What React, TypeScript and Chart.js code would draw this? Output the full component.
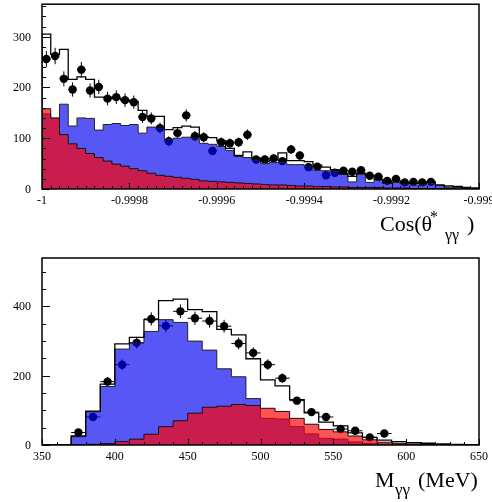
import React, { useEffect, useRef } from "react";
import { Chart, registerables } from "chart.js";
Chart.register(...registerables);

// ---------- Top panel: Cos(theta*_gg) ----------
const cosBinLow = -1;
const cosBinWidth = 0.00002;
const cosTotal = [305, 265, 275, 216, 221, 216, 181, 181, 178, 175, 172, 155, 143, 143, 117, 121, 124, 122, 103, 101, 95, 80, 66, 73, 61, 54, 57, 71, 56, 56, 54, 47, 43, 38, 30, 25, 31, 27, 19, 12, 16, 12, 11, 11, 14, 8, 6, 5, 3, 2];
const cosBlue = [148, 139, 167, 124, 140, 139, 116, 127, 129, 125, 127, 110, 122, 120, 97, 100, 102, 100, 90, 88, 84, 76, 64, 62, 57, 50, 52, 52, 48, 48, 45, 37, 36, 35, 29, 14, 29, 13, 18, 11, 13, 10, 8, 8, 11, 7, 4, 3, 2, 1];
const cosRed = [158, 140, 107, 89, 80, 70, 62, 55, 49, 45, 40, 36, 31, 27, 25, 23, 21, 19, 16, 15, 14, 13, 12, 11, 10, 9, 8, 8, 7, 6, 6, 5, 5, 4, 4, 3, 3, 3, 3, 2, 2, 2, 1, 1, 1, 1, 1, 0, 0, 0];
const cosDataFirstBin = 0;
const cosData = [256, 262, 217, 196, 235, 194, 201, 178, 181, 175, 171, 142, 139, 120, 94, 110, 145, 104, 102, 75, 92, 90, 92, 107, 58, 58, 60, 55, 78, 66, 43, 44, 27, 32, 36, 34, 37, 26, 24, 16, 20, 13, 14, 13, 14];
const cosXTickValues = [-1, -0.9998, -0.9996, -0.9994, -0.9992, -0.999];
const cosXTickLabels = ["-1", "-0.9998", "-0.9996", "-0.9994", "-0.9992", "-0.999"];
const cosYTickValues = [0, 100, 200, 300];
const cosYTickLabels = ["0", "100", "200", "300"];

// ---------- Bottom panel: M_gg (MeV) ----------
const massBinLow = 350;
const massBinWidth = 10;
const massTotal = [0, 1, 26, 98, 176, 292, 311, 362, 417, 421, 391, 385, 334, 318, 249, 188, 171, 131, 93, 66, 55, 35, 22, 14, 10, 7, 5, 3, 2, 1];
const massBlue = [0, 0, 24, 96, 169, 277, 295, 328, 362, 354, 300, 274, 220, 197, 134, 77, 75, 53, 32, 19, 17, 9, 5, 3, 2, 1, 0, 0, 0, 0];
const massRed = [0, 0, 1, 2, 4, 10, 17, 31, 53, 70, 92, 109, 112, 117, 114, 106, 97, 77, 60, 45, 38, 26, 15, 8, 5, 3, 2, 1, 0, 0];
const massDataFirstBin = 2;
const massData = [36, 81, 183, 232, 295, 364, 344, 386, 366, 358, 343, 293, 266, 232, 193, 128, 95, 81, 46, 41, 22, 33];
const massXTickValues = [350, 400, 450, 500, 550, 600, 650];
const massXTickLabels = ["350", "400", "450", "500", "550", "600", "650"];
const massYTickValues = [0, 200, 400];
const massYTickLabels = ["0", "200", "400"];

const BLUE = "rgba(0,0,240,0.66)";
const RED = "rgba(255,0,0,0.68)";
const SERIF = "'Liberation Serif', 'Times New Roman', serif";

function histPoints(low: number, width: number, values: number[]) {
  const pts = [{ x: low, y: 0 }];
  values.forEach((v, i) => pts.push({ x: low + i * width, y: v }));
  const end = low + values.length * width;
  pts.push({ x: end, y: values[values.length - 1] });
  pts.push({ x: end, y: 0 });
  return pts;
}

type PanelCfg = {
  xMin: number; xMax: number; yMax: number;
  padding: { left: number; right: number; top: number; bottom: number };
  binLow: number; binWidth: number;
  total: number[]; blue: number[]; red: number[];
  dataFirstBin: number; data: number[];
  xTickValues: number[]; xTickLabels: string[]; xMinorStep: number;
  yTickValues: number[]; yTickLabels: string[]; yMinorStep: number;
  title: (ctx: CanvasRenderingContext2D) => void;
};

function makeChart(canvas: HTMLCanvasElement, p: PanelCfg) {
  const dataPts = p.data.map((v, i) => ({ x: p.binLow + (p.dataFirstBin + i + 0.5) * p.binWidth, y: v }));
  const plugin = {
    id: "rootFrame",
    beforeDatasetDraw(chart: any, args: any) {
      if (chart.data.datasets[args.index].label !== "data") return;
      const ctx = chart.ctx as CanvasRenderingContext2D;
      const xs = chart.scales.x, ys = chart.scales.y;
      const a = chart.chartArea;
      ctx.save();
      ctx.beginPath();
      ctx.rect(a.left, a.top, a.right - a.left, a.bottom - a.top);
      ctx.clip();
      ctx.strokeStyle = "#000";
      ctx.lineWidth = 1;
      dataPts.forEach((pt) => {
        const e = Math.sqrt(pt.y);
        const px = xs.getPixelForValue(pt.x);
        const py = ys.getPixelForValue(pt.y);
        ctx.beginPath();
        ctx.moveTo(px, ys.getPixelForValue(pt.y + e));
        ctx.lineTo(px, ys.getPixelForValue(pt.y - e));
        ctx.moveTo(xs.getPixelForValue(pt.x - p.binWidth / 2), py);
        ctx.lineTo(xs.getPixelForValue(pt.x + p.binWidth / 2), py);
        ctx.stroke();
      });
      ctx.restore();
    },
    afterDraw(chart: any) {
      const ctx = chart.ctx as CanvasRenderingContext2D;
      const xs = chart.scales.x, ys = chart.scales.y;
      const a = chart.chartArea;
      ctx.save();
      ctx.strokeStyle = "#000";
      // ticks
      ctx.lineWidth = 1;
      ctx.beginPath();
      const nx = Math.round((p.xMax - p.xMin) / p.xMinorStep);
      for (let i = 0; i <= nx; i++) {
        const v = p.xMin + i * p.xMinorStep;
        const px = Math.round(xs.getPixelForValue(v)) + 0.5;
        const isMajor = p.xTickValues.some((t) => Math.abs(t - v) < p.xMinorStep * 0.01);
        ctx.moveTo(px, a.bottom);
        ctx.lineTo(px, a.bottom - (isMajor ? 6 : 3));
      }
      const ny = Math.floor(p.yMax / p.yMinorStep);
      for (let i = 0; i <= ny; i++) {
        const v = i * p.yMinorStep;
        const py = Math.round(ys.getPixelForValue(v)) + 0.5;
        const isMajor = p.yTickValues.some((t) => Math.abs(t - v) < 1e-6);
        ctx.moveTo(a.left, py);
        ctx.lineTo(a.left + (isMajor ? 8 : 4), py);
      }
      ctx.stroke();
      // frame
      ctx.lineWidth = 1.5;
      ctx.strokeRect(a.left, a.top, a.right - a.left, a.bottom - a.top);
      // labels
      ctx.fillStyle = "#000";
      ctx.font = `12px ${SERIF}`;
      ctx.textAlign = "center";
      ctx.textBaseline = "alphabetic";
      p.xTickValues.forEach((v, i) => {
        ctx.fillText(p.xTickLabels[i], xs.getPixelForValue(v), a.bottom + 15);
      });
      ctx.textAlign = "right";
      p.yTickValues.forEach((v, i) => {
        ctx.fillText(p.yTickLabels[i], a.left - 11, ys.getPixelForValue(v) + 4);
      });
      p.title(ctx);
      ctx.restore();
    },
  };
  return new Chart(canvas, {
    type: "line",
    data: {
      datasets: [
        { label: "data", data: dataPts, showLine: false, pointRadius: 4.2, pointHoverRadius: 4.2, pointBackgroundColor: "#000", pointBorderWidth: 0, order: 5 } as any,
        { label: "blue", data: histPoints(p.binLow, p.binWidth, p.blue), stepped: true, fill: "origin", backgroundColor: BLUE, borderColor: "#222", borderWidth: 1, pointRadius: 0, order: 4 },
        { label: "red", data: histPoints(p.binLow, p.binWidth, p.red), stepped: true, fill: "origin", backgroundColor: RED, borderColor: "#111", borderWidth: 1, pointRadius: 0, order: 3 },
        { label: "total", data: histPoints(p.binLow, p.binWidth, p.total), stepped: true, fill: false, borderColor: "#000", borderWidth: 1.3, pointRadius: 0, order: 2 },
      ],
    },
    options: {
      responsive: false,
      devicePixelRatio: 1,
      animation: false,
      events: [],
      layout: { padding: p.padding },
      scales: {
        x: { type: "linear", min: p.xMin, max: p.xMax, display: false },
        y: { type: "linear", min: 0, max: p.yMax, display: false },
      },
      plugins: { legend: { display: false }, tooltip: { enabled: false } },
    },
    plugins: [plugin],
  });
}

export default function App() {
  const topRef = useRef<HTMLCanvasElement>(null);
  const botRef = useRef<HTMLCanvasElement>(null);
  useEffect(() => {
    document.body.style.margin = "0";
    const top = makeChart(topRef.current!, {
      xMin: -1, xMax: -0.999, yMax: 364,
      padding: { left: 42, right: 13, top: 3, bottom: 61 },
      binLow: cosBinLow, binWidth: cosBinWidth,
      total: cosTotal, blue: cosBlue, red: cosRed,
      dataFirstBin: cosDataFirstBin, data: cosData,
      xTickValues: cosXTickValues, xTickLabels: cosXTickLabels, xMinorStep: 0.00002,
      yTickValues: cosYTickValues, yTickLabels: cosYTickLabels, yMinorStep: 20,
      title: (ctx) => {
        ctx.textAlign = "left";
        ctx.textBaseline = "alphabetic";
        ctx.font = `22px ${SERIF}`;
        ctx.fillText("Cos(\u03B8", 380, 231);
        ctx.font = `16px ${SERIF}`;
        ctx.fillText("*", 430, 222);
        ctx.font = `16px ${SERIF}`;
        ctx.fillText("\u03B3\u03B3", 445, 240);
        ctx.font = `22px ${SERIF}`;
        ctx.fillText(")", 467, 231);
      },
    });
    const bot = makeChart(botRef.current!, {
      xMin: 350, xMax: 650, yMax: 540,
      padding: { left: 42, right: 13, top: 8, bottom: 57 },
      binLow: massBinLow, binWidth: massBinWidth,
      total: massTotal, blue: massBlue, red: massRed,
      dataFirstBin: massDataFirstBin, data: massData,
      xTickValues: massXTickValues, xTickLabels: massXTickLabels, xMinorStep: 10,
      yTickValues: massYTickValues, yTickLabels: massYTickLabels, yMinorStep: 50,
      title: (ctx) => {
        ctx.textAlign = "left";
        ctx.textBaseline = "alphabetic";
        ctx.font = `22px ${SERIF}`;
        ctx.fillText("M", 375, 237);
        ctx.font = `17px ${SERIF}`;
        ctx.fillText("\u03B3\u03B3", 395, 245);
        ctx.font = `22px ${SERIF}`;
        ctx.fillText("(MeV)", 418, 237);
      },
    });
    return () => {
      top.destroy();
      bot.destroy();
    };
  }, []);
  return (
    <div style={{ position: "relative", width: 492, height: 502 }}>
      <canvas ref={topRef} width={492} height={250} style={{ position: "absolute", left: 0, top: 0 }} />
      <canvas ref={botRef} width={492} height={252} style={{ position: "absolute", left: 0, top: 250 }} />
    </div>
  );
}
